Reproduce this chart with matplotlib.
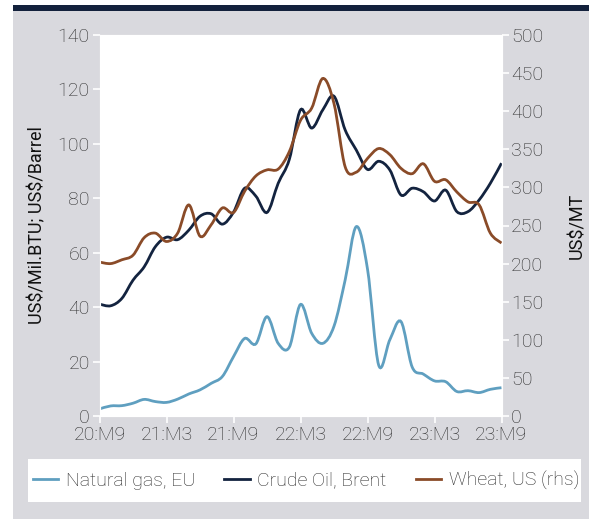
import numpy as np
import matplotlib
matplotlib.use('Agg')
import matplotlib.pyplot as plt
from matplotlib.path import Path
from matplotlib.patches import PathPatch, Rectangle
from matplotlib.lines import Line2D

# monthly, 2020:M9 .. 2023:M9
months = np.arange(37)
tick_pos = [0, 6, 12, 18, 24, 30, 36]
tick_labels = ['20:M9', '21:M3', '21:M9', '22:M3', '22:M9', '23:M3', '23:M9']

gas_eu = [2.6, 3.7, 3.8, 4.7, 6.1, 5.3, 5.0, 6.2, 8.1, 9.6, 12.0, 14.5, 21.8,
          28.5, 26.5, 36.5, 26.7, 25.3, 41.0, 30.4, 26.7, 33.0, 50.0, 69.6, 54.0,
          18.7, 28.0, 34.7, 18.0, 15.4, 12.9, 12.6, 9.0, 9.3, 8.6, 9.8, 10.4]
brent = [41.1, 40.5, 43.2, 49.9, 54.8, 62.2, 65.7, 64.8, 68.3, 73.4, 74.3, 70.5,
         74.9, 83.7, 80.8, 74.8, 85.5, 94.3, 112.5, 105.8, 112.5, 117.5, 105.1,
         97.7, 90.6, 93.6, 90.4, 81.2, 83.7, 82.4, 79.0, 83.0, 75.1, 75.1, 79.4,
         85.5, 92.9]
wheat_us = [202, 200, 205, 211, 234, 240, 229, 240, 277, 236, 251, 273, 267, 295,
            315, 323, 324, 347, 388, 404, 443, 410, 327, 320, 338, 351, 343, 325,
            318, 331, 308, 310, 294, 281, 277, 240, 227]
series_names = ['Natural gas, EU', 'Crude Oil, Brent', 'Wheat, US (rhs)']

C_GAS = '#5f9fc0'
C_OIL = '#13233f'
C_WHEAT = '#8a4b28'
C_BG = '#d9d9de'
C_TXT = '#2b2b2b'


def smooth_path(x, y):
    # catmull-rom style bezier through the points (like a "smoothed line")
    x = np.asarray(x, float); y = np.asarray(y, float)
    verts = [(x[0], y[0])]
    codes = [Path.MOVETO]
    n = len(x)
    for i in range(n - 1):
        p0 = i - 1 if i > 0 else i
        p3 = i + 2 if i + 2 < n else i + 1
        c1 = (x[i] + (x[i+1] - x[p0]) / 6, y[i] + (y[i+1] - y[p0]) / 6)
        c2 = (x[i+1] - (x[p3] - x[i]) / 6, y[i+1] - (y[p3] - y[i]) / 6)
        verts += [c1, c2, (x[i+1], y[i+1])]
        codes += [Path.CURVE4] * 3
    return Path(verts, codes)


plt.rcParams['font.family'] = ['Roboto', 'Liberation Sans', 'DejaVu Sans']
plt.rcParams['font.weight'] = 'light'
plt.rcParams['text.color'] = C_TXT

fig = plt.figure(figsize=(5.89, 5.19), dpi=100)
fig.patch.set_facecolor('white')
fig.add_artist(Rectangle((13/589, 0), 1 - 13/589, 1 - 11/519, transform=fig.transFigure,
                         facecolor=C_BG, edgecolor='none', zorder=-10))
fig.add_artist(Rectangle((13/589, 1 - 11/519), 1 - 13/589, 6/519, transform=fig.transFigure,
                         facecolor='#13213c', edgecolor='none', zorder=-9))
# legend panel
fig.add_artist(Rectangle((28/589, 1 - 502/519), 553/589, 43/519, transform=fig.transFigure,
                         facecolor='white', edgecolor='none', zorder=-8))

ax = fig.add_axes([99.5/589, 1 - 416/519, 402/589, 381/519])
ax.set_facecolor('white')
ax2 = ax.twinx()
ax2.patch.set_visible(False)

lw = 2.0
ax.add_patch(PathPatch(smooth_path(months, gas_eu), fill=False, edgecolor=C_GAS, lw=lw))
ax.add_patch(PathPatch(smooth_path(months, brent), fill=False, edgecolor=C_OIL, lw=lw))
ax2.add_patch(PathPatch(smooth_path(months, wheat_us), fill=False, edgecolor=C_WHEAT, lw=lw))

ax.set_xlim(0, 36)
ax.set_ylim(0, 140)
ax2.set_ylim(0, 500)
ax.set_yticks(range(0, 141, 20))
ax2.set_yticks(range(0, 501, 50))
ax.set_xticks(tick_pos)
ax.set_xticklabels(tick_labels)

for a in (ax, ax2):
    for s in a.spines.values():
        s.set_color('white')
    a.tick_params(colors='white', labelcolor=C_TXT, labelsize=14, length=5, width=1.2, pad=2)

ax.set_ylabel(r'US\$/Mil.BTU; US\$/Barrel', fontsize=13, color='#111111',
              fontweight='normal', labelpad=8)
ax2.set_ylabel(r'US\$/MT', fontsize=13, color='#111111', fontweight='normal', labelpad=18)

handles = [Line2D([], [], color=c, lw=lw) for c in (C_GAS, C_OIL, C_WHEAT)]
leg = fig.legend(handles, series_names, loc='center',
                 bbox_to_anchor=(306/589, 1 - 480.5/519), ncol=3, frameon=False,
                 fontsize=14, handlelength=1.3, handletextpad=0.4, columnspacing=1.5)

fig.savefig('out.png', dpi=100, facecolor=fig.get_facecolor())
